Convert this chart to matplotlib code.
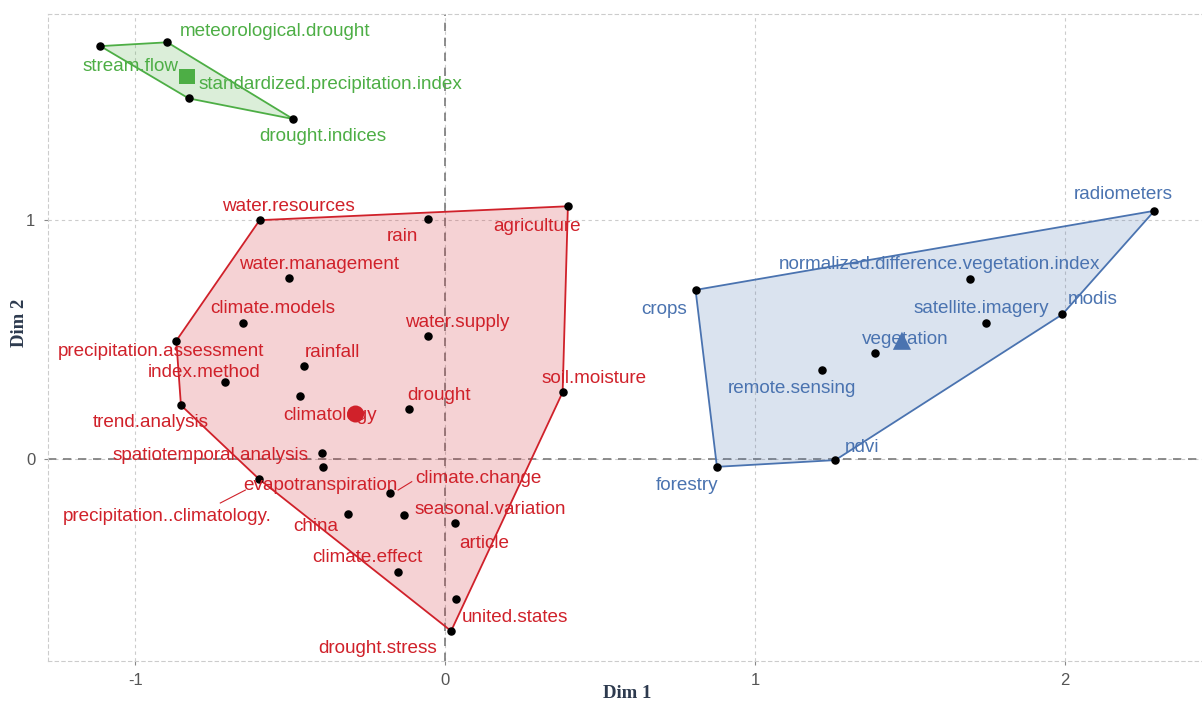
import numpy as np
import matplotlib
matplotlib.use("Agg")
import matplotlib.pyplot as plt

# cluster members: coordinates on the first two dimensions
green_terms = ["stream.flow", "meteorological.drought",
               "standardized.precipitation.index", "drought.indices"]
green_x = [-1.113, -0.897, -0.828, -0.491]
green_y = [1.724, 1.740, 1.506, 1.420]

red_terms = ["water.resources", "rain", "agriculture", "water.management",
             "climate.models", "water.supply", "precipitation.assessment",
             "rainfall", "index.method", "climatology", "soil.moisture",
             "trend.analysis", "drought", "spatiotemporal.analysis",
             "evapotranspiration", "precipitation..climatology.",
             "climate.change", "china", "seasonal.variation", "article",
             "climate.effect", "united.states", "drought.stress"]
red_x = [-0.599, -0.057, 0.396, -0.503, -0.654, -0.056, -0.868, -0.456,
         -0.710, -0.468, 0.379, -0.853, -0.117, -0.398, -0.395, -0.601,
         -0.179, -0.315, -0.133, 0.031, -0.152, 0.034, 0.019]
red_y = [0.998, 1.001, 1.056, 0.755, 0.567, 0.513, 0.495, 0.389, 0.324,
         0.264, 0.280, 0.226, 0.210, 0.025, -0.031, -0.082, -0.142, -0.228,
         -0.232, -0.266, -0.471, -0.581, -0.716]

blue_terms = ["radiometers", "crops", "normalized.difference.vegetation.index",
              "modis", "satellite.imagery", "vegetation", "remote.sensing",
              "ndvi", "forestry"]
blue_x = [2.289, 0.808, 1.695, 1.992, 1.745, 1.387, 1.216, 1.259, 0.877]
blue_y = [1.037, 0.707, 0.752, 0.605, 0.570, 0.444, 0.373, -0.003, -0.031]

# where each label sits (repelled away from its point)
green_lab = [(-1.016, 1.640), (-0.548, 1.787), (-0.369, 1.566), (-0.394, 1.345)]
red_lab = [(-0.506, 1.057), (-0.139, 0.928), (0.297, 0.970), (-0.408, 0.815),
           (-0.558, 0.630), (0.039, 0.572), (-0.918, 0.452), (-0.365, 0.448),
           (-0.777, 0.364), (-0.371, 0.185), (0.481, 0.339), (-0.952, 0.152),
           (-0.019, 0.268), (-0.758, 0.018), (-0.403, -0.111), (-0.897, -0.240),
           (0.106, -0.078), (-0.419, -0.282), (0.147, -0.207), (0.126, -0.349),
           (-0.252, -0.408), (0.226, -0.658), (-0.218, -0.787)]
blue_lab = [(2.190, 1.103), (0.708, 0.626), (1.597, 0.811), (2.090, 0.665),
            (1.731, 0.630), (1.484, 0.502), (1.119, 0.294), (1.345, 0.051),
            (0.781, -0.107)]

# leader segments for the two labels pushed furthest out
red_segments = {"precipitation..climatology.": [(-0.726, -0.182), (-0.645, -0.128)],
                "climate.change": [(-0.108, -0.093), (-0.152, -0.128)]}


def convex_hull(pts):
    pts = sorted(set(pts))
    def cross(o, a, b):
        return (a[0] - o[0]) * (b[1] - o[1]) - (a[1] - o[1]) * (b[0] - o[0])
    lower, upper = [], []
    for p in pts:
        while len(lower) >= 2 and cross(lower[-2], lower[-1], p) <= 0:
            lower.pop()
        lower.append(p)
    for p in reversed(pts):
        while len(upper) >= 2 and cross(upper[-2], upper[-1], p) <= 0:
            upper.pop()
        upper.append(p)
    return np.array(lower[:-1] + upper[:-1])


plt.rcParams['font.family'] = ['Liberation Sans', 'DejaVu Sans']
plt.rcParams['axes.unicode_minus'] = False

fig = plt.figure(figsize=(12.02, 7.04), dpi=100)
ax = fig.add_axes([0.0397, 0.0611, 0.9645, 0.919])

ax.set_xlim(-1.283, 2.459)
ax.set_ylim(-0.841, 1.858)

# background grid and reference lines
for gx in [-1, 0, 1, 2]:
    ax.axvline(gx, color='#cccccc', lw=0.8, ls=(0, (3, 3)), zorder=0)
for gy in [0, 1]:
    ax.axhline(gy, color='#cccccc', lw=0.8, ls=(0, (3, 3)), zorder=0)
ax.axhline(0, color='#7a7a7a', lw=1.2, ls=(0, (5, 4)), zorder=1)
ax.axvline(0, color='#7a7a7a', lw=1.2, ls=(0, (5, 4)), zorder=1)

groups = [
    (green_x, green_y, green_terms, green_lab, '#4dae45', 's', 130),
    (red_x, red_y, red_terms, red_lab, '#d0212a', 'o', 150),
    (blue_x, blue_y, blue_terms, blue_lab, '#4a73b0', '^', 170),
]

for xs, ys, terms, labs, col, mk, msize in groups:
    hull = convex_hull(list(zip(xs, ys)))
    ax.fill(hull[:, 0], hull[:, 1], facecolor=col, alpha=0.2, edgecolor='none', zorder=2)
    ax.fill(hull[:, 0], hull[:, 1], facecolor='none', edgecolor=col, lw=1.3, zorder=3)
    ax.scatter(xs, ys, s=26, color='black', zorder=4)
    ax.scatter([np.mean(xs)], [np.mean(ys)], s=msize, marker=mk, color=col,
               edgecolor='none', zorder=5)
    for term, (lx, ly) in zip(terms, labs):
        ax.text(lx, ly, term, color=col, fontsize=13.6, ha='center', va='center', zorder=6)

for term, seg in red_segments.items():
    (x0, y0), (x1, y1) = seg
    ax.plot([x0, x1], [y0, y1], color='#d0212a', lw=0.8, zorder=6)

ax.set_xticks([-1, 0, 1, 2])
ax.set_yticks([0, 1])
ax.tick_params(colors='#888888', labelcolor='#555555', labelsize=12, length=3, pad=6)

for side in ['left', 'bottom', 'top']:
    ax.spines[side].set_color('#cccccc')
    ax.spines[side].set_linestyle((0, (3, 3)))
    ax.spines[side].set_linewidth(0.8)
ax.spines['right'].set_visible(False)

fig.text(0.5216, 0.0156, 'Dim 1', fontsize=13.5, fontweight='bold', family='Liberation Serif',
         color='#2d3a4e', ha='center', va='center')
fig.text(0.016, 0.542, 'Dim 2', fontsize=13.5, fontweight='bold', family='Liberation Serif',
         color='#2d3a4e', rotation=90, ha='center', va='center')

fig.savefig('out.png', dpi=100)
